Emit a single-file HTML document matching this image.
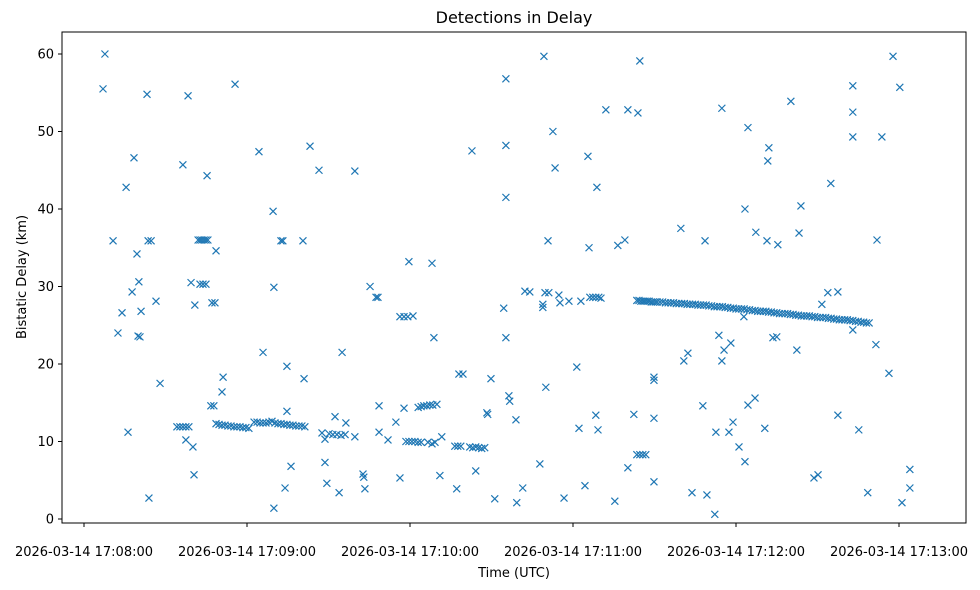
<!DOCTYPE html>
<html><head><meta charset="utf-8"><style>
body{margin:0;background:#fff}
svg{display:block;font-family:"DejaVu Sans","Liberation Sans",sans-serif}
</style></head><body>
<svg id="chart" width="980" height="590" xmlns="http://www.w3.org/2000/svg">
<text x="514" y="23" font-size="16" text-anchor="middle">Detections in Delay</text>
<rect x="62" y="32" width="904" height="491" fill="none" stroke="#000" stroke-width="1"/>
<g id="marks"></g>
<g id="axes"></g>
<text x="514" y="577" font-size="13" text-anchor="middle">Time (UTC)</text>
<text transform="translate(26,277) rotate(-90)" font-size="13" text-anchor="middle">Bistatic Delay (km)</text>
</svg>
<script>
// seconds after 2026-03-14 17:08:00 UTC, bistatic delay km
const detections = [
[7.0,55.5],[7.7,60],[10.7,35.9],[12.5,24],[14,26.6],[15.5,42.8],[16.2,11.2],[17.7,29.3],[18.4,46.6],[19.5,34.2],[20.2,30.6],[19.9,23.6],[20.6,23.5],[21,26.8],[23.2,54.8],[23.6,35.9],[24.7,35.9],[23.9,2.7],[26.5,28.1],[28,17.5],
[34.2,11.9],[35.3,11.9],[36.4,11.9],[37.5,11.9],[38.6,11.9],[36.4,45.7],[37.5,10.2],[38.3,54.6],[39.4,30.5],[40.1,9.3],[40.5,5.7],[40.8,27.6],
[42,36],[42.7,36],[43.4,36],[44.2,36],[44.9,36],[45.6,36],[42.7,30.3],[43.8,30.3],[44.9,30.3],
[45.3,44.3],[46.7,14.6],[47.8,14.6],[47.1,27.9],[48.2,27.9],[48.6,34.6],
[48.6,12.3],[49.7,12.2],[50.8,12.1],[51.9,12.1],[53,12],[54.1,12],[55.2,11.9],[56.3,11.9],[57.4,11.9],[58.5,11.8],[59.6,11.8],[60.7,11.7],
[50.8,16.4],[51.2,18.3],[55.6,56.1],
[62.6,12.5],[63.7,12.5],[64.8,12.4],[65.9,12.4],[67,12.4],[68.1,12.5],[69.2,12.6],[70.3,12.4],[71.4,12.3],[72.5,12.3],[73.6,12.2],[74.7,12.2],[75.8,12.1],[76.9,12.1],[78,12],[79.1,12],[80.2,12],[81.3,11.9],
[64.4,47.4],[65.9,21.5],[69.6,39.7],[69.9,29.9],[69.9,1.4],[72.5,35.9],[73.2,35.9],[74,4],[74.7,19.7],[74.7,13.9],[76.2,6.8],[80.6,35.9],[81,18.1],[83.2,48.1],[86.5,45],
[87.6,11.1],[88.7,10.3],[90.2,11],[91.6,10.9],[93.1,10.9],[94.6,10.8],[96.1,10.9],
[88.7,7.3],[89.4,4.6],[92.4,13.2],[93.9,3.4],[95,21.5],[96.4,12.4],[99.7,10.6],[99.7,44.9],[102.7,5.8],[103,5.4],[103.4,3.9],[105.3,30],[107.5,28.6],[108.2,28.6],[108.6,14.6],[108.6,11.2],[111.9,10.2],[114.8,12.5],
[116.3,26.1],[117.8,26.1],[119.2,26.1],[121.1,26.2],[116.3,5.3],[117.8,14.3],[119.6,33.2],
[118.5,10],[119.6,10],[120.7,10],[121.8,10],[123,9.9],[124.1,9.9],
[123,14.4],[124.1,14.5],[125.1,14.6],[126.2,14.6],[127.3,14.7],[128.4,14.7],[129.9,14.8],
[126.6,9.9],[128.1,9.7],[129.2,9.9],[128.1,33],[128.8,23.4],[131,5.6],[131.7,10.6],[137.2,3.9],
[136.5,9.4],[137.6,9.4],[138.7,9.4],[138,18.7],[139.5,18.7],[142.8,47.5],
[142,9.3],[143.1,9.2],[144.2,9.3],[145.3,9.2],[146.4,9.1],[147.5,9.2],
[144.2,6.2],[148.3,13.7],[148.6,13.5],[149.8,18.1],[151.2,2.6],[154.5,27.2],[155.3,56.8],[155.3,48.2],[155.3,41.5],[155.3,23.4],[156.4,15.9],[156.7,15.2],[159,12.8],[159.3,2.1],[161.5,4],[162.3,29.4],[164.1,29.3],[167.8,7.1],[168.9,27.7],[168.9,27.3],[169.3,59.7],[169.7,29.2],[171.1,29.2],[170,17],[170.8,35.9],[172.6,50],[173.4,45.3],[174.8,28.9],[175.2,27.9],[176.7,2.7],[178.5,28.1],[181.4,19.6],[182.2,11.7],[182.9,28.1],[184.4,4.3],[185.5,46.8],[185.9,35],
[186.2,28.6],[187.3,28.6],[188.4,28.6],[189.5,28.6],[190.3,28.5],
[188.4,13.4],[188.8,42.8],[189.2,11.5],[192.1,52.8],[195.4,2.3],[196.5,35.3],[199.1,36],[200.2,6.6],[200.2,52.8],[202.4,13.5],[203.9,52.4],[204.6,59.1],
[203.5,8.3],[204.6,8.3],[205.7,8.3],[206.8,8.3],
[203.5,28.2],[204.3,28.2],[205,28.1],[205.8,28.1],[206.5,28.1],[207.3,28.1],[208,28.1],[208.8,28],[209.5,28],[210.3,28],[211,28],[212,28],[213,28],[214,27.9],[215,27.9],[216,27.9],[217,27.9],[218,27.8],[219,27.8],[220,27.8],[221,27.8],[222,27.7],[223,27.7],[224,27.7],[225,27.7],[226,27.6],[227,27.6],[228,27.6],[229,27.6],[230,27.5],[231,27.5],[232,27.4],[233,27.4],[234,27.4],[235,27.4],[236,27.3],[237,27.3],[238,27.2],[239,27.2],[240,27.1],[241,27.1],[242,27.1],[243,27.1],[244,27],[245,27],[246,26.9],[247,26.9],[248,26.8],[249,26.8],[250,26.8],[251,26.8],[252,26.7],[253,26.7],[254,26.6],[255,26.6],[256,26.5],[257,26.5],[258,26.5],[259,26.5],[260,26.4],[261,26.4],[262,26.3],[263,26.3],[264,26.2],[265,26.2],[266,26.2],[267,26.2],[268,26.1],[269,26.1],[270,26],[271,26],[272,26],[273,26],[274,25.9],[275,25.9],[276,25.8],[277,25.8],[278,25.7],[279,25.7],[280,25.7],[281,25.7],[282,25.6],[283,25.6],[284,25.5],[285,25.5],[286,25.4],[287,25.4],[288,25.3],[289,25.3],
[209.8,18.3],[209.8,17.9],[209.8,13],[209.8,4.8],[219.7,37.5],[220.8,20.4],[222.3,21.4],[223.8,3.4],[227.8,14.6],[228.6,35.9],[229.3,3.1],[232.2,0.6],[232.6,11.2],[233.7,23.7],[234.8,53],[234.8,20.4],[235.6,21.8],[237.4,11.2],[238.1,22.7],[238.9,12.5],[241.1,9.3],[242.9,26.1],[243.3,40],[243.3,7.4],[244.4,50.5],[244.4,14.7],[247,15.6],[247.3,37],[250.6,11.7],[251.4,35.9],[251.7,46.2],[252.1,47.9],[253.6,23.4],[255,23.5],[255.4,35.4],[260.2,53.9],[262.4,21.8],[263.2,36.9],[263.9,40.4],[268.7,5.3],[270.2,5.7],[271.6,27.7],[273.8,29.2],[274.9,43.3],[277.5,13.4],[277.5,29.3],[283,55.9],[283,52.5],[283,49.3],[283,24.4],[285.2,11.5],[288.5,3.4],[291.9,36],[291.5,22.5],[293.7,49.3],[296.3,18.8],[297.8,59.7],[300.3,55.7],[301.1,2.1],[304,4],[304,6.4]
];
const xTickValues = [0,60,120,180,240,300];
const xTickLabels = ["2026-03-14 17:08:00","2026-03-14 17:09:00","2026-03-14 17:10:00","2026-03-14 17:11:00","2026-03-14 17:12:00","2026-03-14 17:13:00"];
const yTickValues = [0,10,20,30,40,50,60];

const NS="http://www.w3.org/2000/svg";
function xs(t){return 84 + t*(163/60);}
function ys(d){return 519 - d*7.75;}
function mk(tag,attrs,parent){const e=document.createElementNS(NS,tag);for(const k in attrs)e.setAttribute(k,attrs[k]);parent.appendChild(e);return e;}
const marks=document.getElementById('marks');
detections.forEach(p=>{
  const x=xs(p[0]),y=ys(p[1]),r=3.5;
  const g=mk('path',{d:`M${x-r},${y-r}L${x+r},${y+r}M${x-r},${y+r}L${x+r},${y-r}`,stroke:'#1f77b4','stroke-width':1.2,fill:'none'},marks);
  
  
});
const axes=document.getElementById('axes');
xTickValues.forEach((v,i)=>{
  const x=xs(v);
  const l=mk('line',{x1:x,x2:x,y1:523,y2:527,stroke:'#000'},axes);
  
  
  const t=mk('text',{x:x,y:556,'font-size':13,'text-anchor':'middle'},axes);
  t.textContent=xTickLabels[i];
  
  
});
yTickValues.forEach(v=>{
  const y=ys(v);
  const l=mk('line',{x1:58,x2:62,y1:y,y2:y,stroke:'#000'},axes);
  
  
  const t=mk('text',{x:54,y:y+4.5,'font-size':13,'text-anchor':'end'},axes);
  t.textContent=v;
  
  
});
</script>
</body></html>
